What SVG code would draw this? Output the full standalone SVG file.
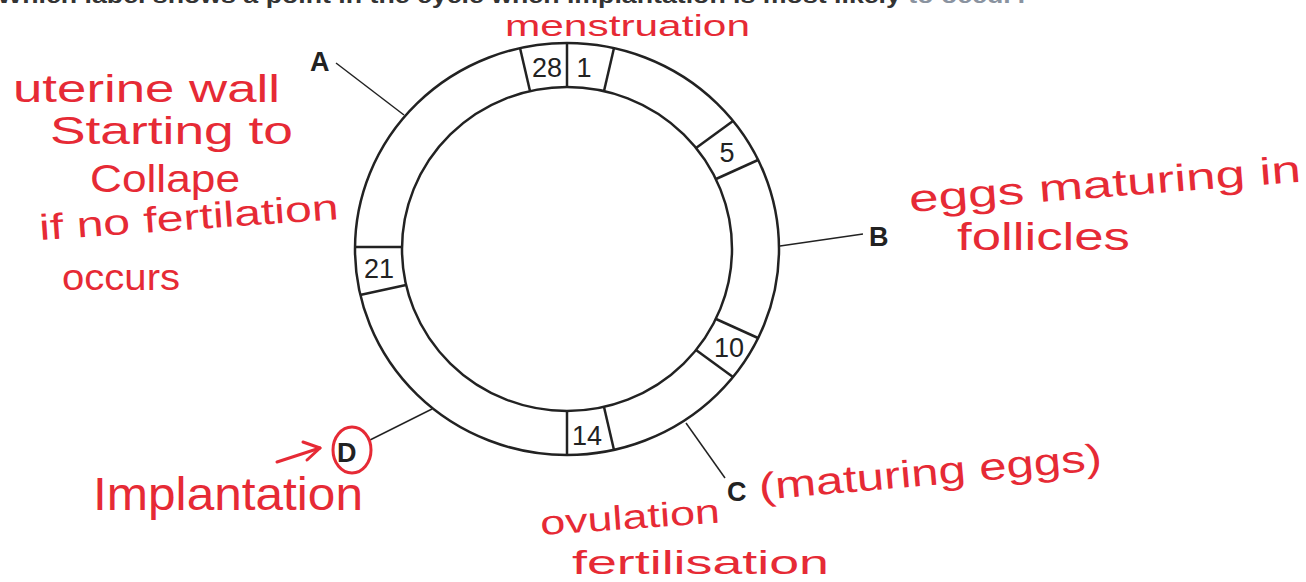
<svg xmlns="http://www.w3.org/2000/svg" width="1306" height="582" viewBox="0 0 1306 582">
<style>
.ring{fill:none;stroke:#222;stroke-width:2.5}
.seg{stroke:#222;stroke-width:2.5;fill:none}
.num{font-family:"Liberation Sans",Arial,sans-serif;font-size:27px;fill:#222;text-anchor:middle}
.lab{font-family:"Liberation Sans",Arial,sans-serif;font-size:27px;font-weight:bold;fill:#222}
.conn{stroke:#222;stroke-width:1.5;fill:none}
.hand{font-family:"Liberation Sans",Arial,sans-serif;fill:#e62a35}
.red{stroke:#e62a35;stroke-width:3;fill:none;stroke-linecap:round;stroke-linejoin:round}
</style>
<rect width="1306" height="582" fill="#fff"/>
<text x="-3" y="3" font-family="Liberation Sans,Arial,sans-serif" font-size="22" font-weight="bold" fill="#333" textLength="1033" lengthAdjust="spacingAndGlyphs">Which label shows a point in the cycle when implantation is most likely <tspan fill="#8a93a0">to occur?</tspan></text>

<g id="cycle">
<ellipse class="ring" cx="567" cy="249" rx="212" ry="206"/>
<ellipse class="ring" cx="567" cy="249" rx="165" ry="162"/>
</g>
<g id="day28-1">
<line class="seg" x1="520" y1="48" x2="530" y2="91"/>
<line class="seg" x1="567" y1="43" x2="567" y2="87"/>
<line class="seg" x1="614" y1="48" x2="604" y2="91"/>
<text class="num" x="547" y="77">28</text>
<text class="num" x="584" y="77">1</text>
</g>
<g id="day5">
<line class="seg" x1="733" y1="121" x2="696" y2="148"/>
<line class="seg" x1="758" y1="160" x2="716" y2="179"/>
<text class="num" x="727" y="162">5</text>
</g>
<g id="day10">
<line class="seg" x1="758" y1="338" x2="716" y2="319"/>
<line class="seg" x1="733" y1="377" x2="696" y2="350"/>
<text class="num" x="729" y="357">10</text>
</g>
<g id="day14">
<line class="seg" x1="614" y1="450" x2="604" y2="407"/>
<line class="seg" x1="567" y1="455" x2="567" y2="411"/>
<text class="num" x="587" y="445">14</text>
</g>
<g id="day21">
<line class="seg" x1="360" y1="295" x2="406" y2="285"/>
<line class="seg" x1="355" y1="247" x2="402" y2="247"/>
<text class="num" x="379" y="278">21</text>
</g>

<g id="connectors">
<line class="conn" x1="336" y1="63" x2="404" y2="115"/>
<line class="conn" x1="780" y1="246" x2="863" y2="234"/>
<line class="conn" x1="686" y1="423" x2="725" y2="478"/>
<line class="conn" x1="370" y1="440" x2="432" y2="409"/>
</g>

<g id="label-A"><text class="lab" x="310" y="71">A</text></g>
<g id="label-B"><text class="lab" x="869" y="246">B</text></g>
<g id="label-C"><text class="lab" x="727" y="501">C</text></g>
<g id="label-D">
<text class="lab" x="337" y="462">D</text>
<ellipse class="red" cx="352" cy="450" rx="19" ry="23"/>
</g>

<g id="note-menstruation"><text class="hand" x="505" y="36" font-size="30" textLength="245" lengthAdjust="spacingAndGlyphs">menstruation</text></g>
<g id="note-A">
<text class="hand" x="13" y="102" font-size="38" textLength="267" lengthAdjust="spacingAndGlyphs">uterine wall</text>
<text class="hand" x="50" y="144" font-size="38" textLength="243" lengthAdjust="spacingAndGlyphs">Starting to</text>
<text class="hand" x="90" y="192" font-size="38" textLength="150" lengthAdjust="spacingAndGlyphs">Collape</text>
<text class="hand" x="40" y="240" font-size="36" textLength="300" lengthAdjust="spacingAndGlyphs" transform="rotate(-4 40 240)">if no fertilation</text>
<text class="hand" x="62" y="290" font-size="36" textLength="118" lengthAdjust="spacingAndGlyphs">occurs</text>
</g>
<g id="note-B">
<text class="hand" x="910" y="212" font-size="38" textLength="393" lengthAdjust="spacingAndGlyphs" transform="rotate(-4.4 910 212)">eggs maturing in</text>
<text class="hand" x="957" y="250" font-size="38" textLength="173" lengthAdjust="spacingAndGlyphs">follicles</text>
</g>
<g id="note-D">
<text class="hand" x="93" y="510" font-size="46" textLength="270" lengthAdjust="spacingAndGlyphs">Implantation</text>
<line class="red" x1="277" y1="462" x2="320" y2="448"/>
<polyline class="red" points="303,442 320,448 307,460"/>
</g>
<g id="note-C">
<text class="hand" x="541" y="535" font-size="34" textLength="180" lengthAdjust="spacingAndGlyphs" transform="rotate(-4 541 535)">ovulation</text>
<text class="hand" x="760" y="500" font-size="38" textLength="344" lengthAdjust="spacingAndGlyphs" transform="rotate(-5 760 500)">(maturing eggs)</text>
<text class="hand" x="572" y="574" font-size="34" textLength="257" lengthAdjust="spacingAndGlyphs">fertilisation</text>
</g>
</svg>
